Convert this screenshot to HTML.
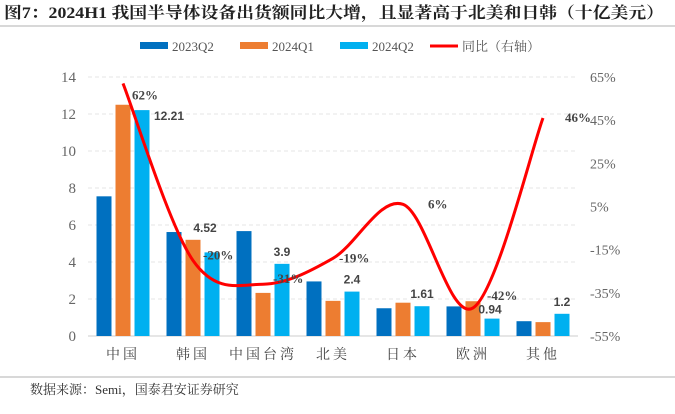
<!DOCTYPE html><html><head><meta charset="utf-8"><style>
body{margin:0;width:675px;height:409px;background:#fff;overflow:hidden}
svg text{font-family:"Liberation Serif","Noto Serif CJK SC",serif}
</style></head><body>
<svg width="675" height="409" id="c">
<text x="4" y="18" font-size="16" font-weight="bold" fill="#222" textLength="660" lengthAdjust="spacingAndGlyphs">图7：2024H1 我国半导体设备出货额同比大增，且显著高于北美和日韩（十亿美元）</text>
<line x1="0" y1="26" x2="675" y2="26" stroke="#999" stroke-width="0.8"/>
<line x1="0" y1="377" x2="675" y2="377" stroke="#999" stroke-width="0.8"/>
<text x="30" y="394" font-size="13" fill="#333">数据来源：Semi，国泰君安证券研究</text>
<g id="g"></g>
</svg>
<script>
const categories=["中国","韩国","中国台湾","北美","日本","欧洲","其他"];
const s2023q2=[7.55,5.62,5.67,2.95,1.5,1.6,0.8];
const s2024q1=[12.5,5.2,2.33,1.9,1.8,1.88,0.75];
const s2024q2=[12.21,4.52,3.9,2.4,1.61,0.94,1.2];
const yoy=[62,-20,-31,-19,6,-42,46];
const leftTicks=[0,2,4,6,8,10,12,14];
const rightTicks=[-55,-35,-15,5,25,45,65];
const NS="http://www.w3.org/2000/svg",g=document.getElementById('g');
function el(t,a,txt){const e=document.createElementNS(NS,t);for(const k in a)e.setAttribute(k,a[k]);if(txt!=null)e.textContent=txt;g.appendChild(e);return e;}
const x0=88,x1=578,yb=336,yt=77;
const y=v=>yb-(v/14)*(yb-yt);
const yr=v=>yb-((v+55)/120)*(yb-yt);
const cx=i=>x0+(i+0.5)*(x1-x0)/categories.length;
leftTicks.forEach(t=>{
 if(t>0){const l=el('line',{x1:x0,x2:x1,y1:y(t),y2:y(t),stroke:'#e4e4e4','stroke-dasharray':'4,3'});
 }
 const tx=el('text',{x:76,y:y(t)+5,'font-size':15,fill:'#666','text-anchor':'end'},t);
 
});
rightTicks.forEach(t=>{
 const tx=el('text',{x:590,y:yr(t)+5,'font-size':14,fill:'#666'},t+'%');
 
});
const ax=el('line',{x1:x0,x2:x1,y1:yb,y2:yb,stroke:'#ccc'});

const series=[[s2023q2,'#0070c0',-19],[s2024q1,'#ed7d31',0],[s2024q2,'#00b0f0',19]];
categories.forEach((c,i)=>{
 series.forEach(([d,col,off])=>{
  const r=el('rect',{x:cx(i)+off-7.5,y:y(d[i]),width:15,height:yb-y(d[i]),fill:col});
  
 });
 const t=el('text',{x:cx(i),y:359,'font-size':14,fill:'#444','text-anchor':'middle','letter-spacing':'3'},c);
 
 const v=el('text',{x:cx(i)+19,y:y(s2024q2[i])-8,'font-size':12,'font-weight':'bold',fill:'#444','text-anchor':'middle',style:'font-family:"Liberation Sans",sans-serif'},String(s2024q2[i]));
 if(i===0){v.setAttribute('x',cx(i)+46);v.setAttribute('y',y(s2024q2[i])+10);}
 if(i===1){v.setAttribute('x',cx(i)+12);v.setAttribute('y',y(5.2)-8);}
 if(i===5){v.setAttribute('x',cx(i)+17);v.setAttribute('y',y(s2024q2[i])-5);}
 
});
const pts=yoy.map((v,i)=>[cx(i),yr(v)]);
let d=`M${pts[0][0]},${pts[0][1]}`;
for(let i=0;i<pts.length-1;i++){const p0=pts[Math.max(0,i-1)],p1=pts[i],p2=pts[i+1],p3=pts[Math.min(pts.length-1,i+2)];
 d+=` C${p1[0]+(p2[0]-p0[0])/6},${p1[1]+(p2[1]-p0[1])/6} ${p2[0]-(p3[0]-p1[0])/6},${p2[1]-(p3[1]-p1[1])/6} ${p2[0]},${p2[1]}`;}
const ln=el('path',{d:d,fill:'none',stroke:'#ff0000','stroke-width':3});

const loff=[[9,16],[10,-1],[10,-1],[6,4],[25,4],[14,-8],[22,4]];
yoy.forEach((v,i)=>{
 const t=el('text',{x:pts[i][0]+loff[i][0],y:pts[i][1]+loff[i][1],'font-size':13,'font-weight':'bold',fill:'#444'},v+'%');
 
});
const leg=[['2023Q2','#0070c0'],['2024Q1','#ed7d31'],['2024Q2','#00b0f0']];
leg.forEach(([n,c],i)=>{const lx=140+i*100;
 const r=el('rect',{x:lx,y:42,width:28,height:7,fill:c});
 const t=el('text',{x:lx+32,y:51,'font-size':13,fill:'#555'},n);
});
const ll=el('line',{x1:430,x2:458,y1:46,y2:46,stroke:'#ff0000','stroke-width':3});
const lt=el('text',{x:462,y:51,'font-size':13,fill:'#555'},'同比（右轴）');
</script></body></html>
